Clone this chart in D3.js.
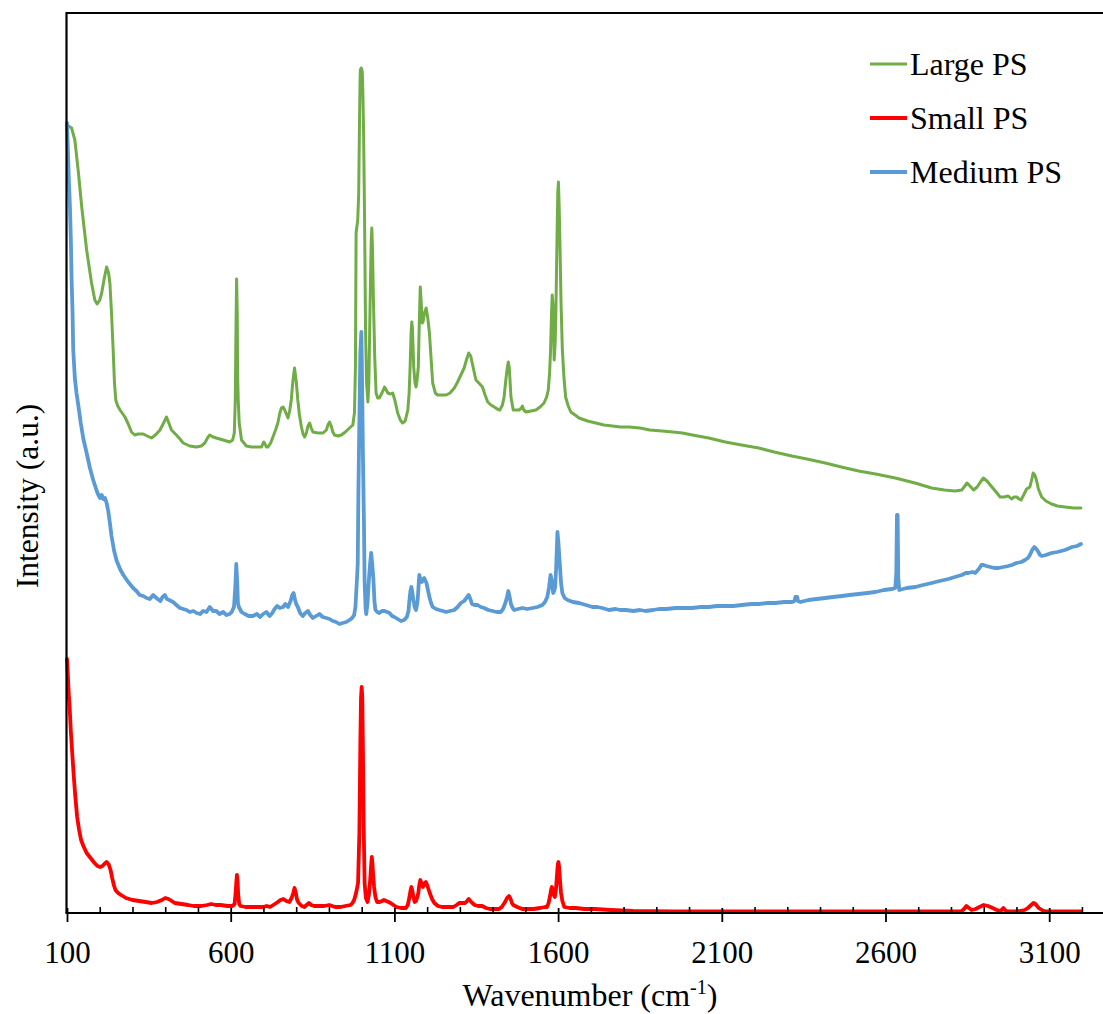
<!DOCTYPE html>
<html>
<head>
<meta charset="utf-8">
<script src="https://cdn.jsdelivr.net/npm/d3@7"></script>
<style>
  html, body { margin: 0; padding: 0; background: #fff; }
  svg { display: block; }
  text { font-family: "Liberation Serif", "Times New Roman", serif; fill: #000; }
</style>
</head>
<body>
<svg id="chart" width="1103" height="1014"></svg>
<script>
// ---------- data (wavenumber cm-1, intensity a.u.) ----------
const seriesNames = ["Large PS", "Small PS", "Medium PS"];
const seriesColors = ["#70AD47", "#FF0000", "#5B9BD5"];
const majorTicks = [100, 600, 1100, 1600, 2100, 2600, 3100];
const minorTicks = [200,300,400,500,700,800,900,1000,1200,1300,1400,1500,1700,1800,1900,2000,2200,2300,2400,2500,2700,2800,2900,3000,3200,3300];

const largePS = [[100,788],[114,785],[124,773],[135,740],[145,706],[160,663],[175,630],[185,613],[192,609],[200,613],[206,620],[214,635],[221,646],[227,640],[231,630],[236,600],[241,563],[245,530],[249,513],[255,507],[262,503],[277,496],[287,489],[297,481],[307,478],[317,479],[333,479],[345,477],[358,475],[370,478],[384,483],[395,490],[404,496],[411,490],[419,483],[434,478],[445,474],[455,470],[475,467],[495,466],[510,467],[521,470],[529,475],[536,478],[546,476],[556,475],[577,473],[597,471],[606,473],[611,480],[614,513],[616,580],[618,634],[620,600],[621,540],[623,513],[626,490],[633,473],[648,467],[663,466],[678,466],[694,466],[698,469],[701,471],[705,469],[709,466],[714,466],[722,470],[729,476],[737,483],[744,490],[750,500],[755,505],[760,506],[765,503],[770,499],[775,495],[780,502],[785,513],[790,532],[795,545],[800,532],[805,513],[810,498],[816,486],[821,479],[826,476],[831,480],[836,487],[841,490],[846,485],[851,481],[866,480],[882,480],[892,483],[897,488],[902,491],[907,487],[912,481],[917,478],[928,477],[938,478],[950,481],[963,485],[973,488],[978,500],[981,546],[983,680],[988,693],[991,720],[993,780],[995,830],[996,843],[999,845],[1002,841],[1004,815],[1006,780],[1009,690],[1012,580],[1015,530],[1019,511],[1022,530],[1026,613],[1029,670],[1031,685],[1033,665],[1036,613],[1040,555],[1044,520],[1049,515],[1054,515],[1062,520],[1070,526],[1075,523],[1080,520],[1088,519],[1095,520],[1102,512],[1110,500],[1118,493],[1125,490],[1133,492],[1141,503],[1145,520],[1148,546],[1151,580],[1153,591],[1155,585],[1157,566],[1159,546],[1163,530],[1166,526],[1169,532],[1173,546],[1176,590],[1179,626],[1182,610],[1185,590],[1188,592],[1192,600],[1197,605],[1202,595],[1207,580],[1212,555],[1217,530],[1225,520],[1232,518],[1245,518],[1258,518],[1270,520],[1283,525],[1293,531],[1303,538],[1313,545],[1320,553],[1327,560],[1333,557],[1337,551],[1343,542],[1349,533],[1358,530],[1369,526],[1377,518],[1385,511],[1395,508],[1405,506],[1414,504],[1422,503],[1430,508],[1435,516],[1441,535],[1446,548],[1448,551],[1451,545],[1456,516],[1463,503],[1472,503],[1481,503],[1488,505],[1491,507],[1495,503],[1502,501],[1517,502],[1532,503],[1545,506],[1557,510],[1565,516],[1570,523],[1574,540],[1577,563],[1580,600],[1582,618],[1585,605],[1588,553],[1591,570],[1593,596],[1596,660],[1599,720],[1601,731],[1603,710],[1606,663],[1609,610],[1613,563],[1618,535],[1623,516],[1631,507],[1639,501],[1652,498],[1664,495],[1690,492],[1715,490],[1740,488],[1766,487],[1790,486],[1817,486],[1850,485],[1880,483],[1918,482],[1950,481],[1980,480],[2010,478],[2060,475],[2111,471],[2160,468],[2213,465],[2260,461],[2314,457],[2360,454],[2416,450],[2465,446],[2518,442],[2570,439],[2630,435],[2690,430],[2741,425],[2780,423],[2813,422],[2833,423],[2840,426],[2849,430],[2858,427],[2869,423],[2880,426],[2890,431],[2899,435],[2910,432],[2925,426],[2938,421],[2950,416],[2962,416],[2975,417],[2985,414],[2993,416],[3001,416],[3008,414],[3014,413],[3022,418],[3031,424],[3041,426],[3047,434],[3051,440],[3056,438],[3061,433],[3067,424],[3077,416],[3090,412],[3107,409],[3125,407],[3148,406],[3175,405],[3197,405]];

const smallPS = [[100,254],[103,235],[106,215],[108,206],[112,180],[116,160],[120,140],[125,118],[131,96],[137,83],[143,73],[150,67],[160,60],[172,55],[184,50],[193,47],[201,46],[208,47],[214,49],[221,51],[227,49],[233,43],[238,35],[243,28],[248,23],[256,20],[265,18],[280,15],[300,13],[320,12],[340,11],[359,10],[375,11],[390,13],[400,15],[410,14],[420,12],[429,10],[450,9],[470,8],[487,7],[510,7],[528,8],[540,9],[555,8],[569,8],[590,7],[605,7],[612,9],[615,20],[617,30],[619,38],[621,32],[623,18],[626,9],[630,7],[645,6],[662,6],[680,6],[697,6],[710,7],[720,6],[730,8],[744,11],[752,13],[761,14],[770,12],[779,11],[786,15],[791,20],[795,25],[799,20],[803,13],[808,10],[817,7],[825,6],[832,8],[839,10],[846,8],[855,7],[870,7],[885,7],[901,8],[910,7],[919,6],[935,6],[950,7],[966,8],[972,10],[977,13],[983,20],[989,30],[993,80],[996,170],[998,215],[1000,226],[1002,215],[1004,160],[1006,90],[1009,30],[1013,15],[1018,11],[1022,18],[1026,33],[1029,48],[1031,56],[1033,50],[1035,38],[1038,26],[1042,16],[1047,11],[1055,11],[1062,12],[1068,13],[1075,12],[1082,11],[1088,10],[1097,8],[1106,6],[1120,5],[1135,5],[1141,8],[1146,16],[1149,22],[1152,26],[1155,22],[1158,16],[1162,11],[1166,12],[1170,16],[1173,20],[1176,28],[1179,33],[1183,30],[1187,26],[1191,29],[1196,31],[1200,28],[1204,24],[1208,20],[1215,14],[1222,10],[1233,7],[1245,6],[1262,6],[1280,6],[1290,8],[1298,10],[1307,10],[1316,10],[1322,12],[1327,14],[1332,12],[1338,10],[1345,8],[1356,7],[1368,7],[1380,5],[1391,4],[1405,4],[1420,4],[1428,6],[1434,9],[1438,11],[1444,15],[1450,17],[1455,14],[1459,10],[1463,8],[1475,6],[1490,4],[1507,4],[1525,4],[1545,5],[1560,6],[1566,6],[1571,10],[1576,18],[1579,24],[1581,26],[1584,22],[1587,18],[1590,16],[1593,22],[1596,35],[1599,48],[1601,51],[1603,46],[1606,32],[1609,20],[1613,12],[1619,6],[1635,5],[1654,5],[1680,4],[1712,4],[1760,3],[1829,2],[1950,1.5],[2300,1.5],[2600,1.5],[2831,1.5],[2840,4],[2847,7],[2855,5],[2863,3],[2875,4],[2887,6],[2900,8],[2913,7],[2927,5],[2940,3],[2949,2],[2955,3],[2960,5],[2965,3],[2971,1.5],[2993,1.5],[3010,2],[3025,3],[3035,5],[3045,8],[3052,10],[3058,9],[3068,5],[3080,2.5],[3090,1.5],[3150,1.5],[3197,1.5]];

const mediumPS = [[100,790],[103,760],[106,730],[109,706],[112,670],[114,634],[117,600],[119,563],[124,535],[129,520],[134,509],[142,490],[150,474],[160,460],[170,445],[180,433],[191,422],[196,418],[201,415],[206,418],[211,414],[216,415],[221,410],[226,402],[231,390],[236,377],[244,362],[252,352],[262,344],[272,338],[287,331],[302,325],[312,322],[322,318],[333,317],[343,315],[353,314],[363,318],[373,315],[385,312],[392,316],[399,318],[405,314],[412,313],[424,311],[434,308],[445,305],[455,304],[465,303],[475,301],[486,302],[496,300],[506,299],[516,302],[526,301],[536,306],[546,302],[556,302],[566,299],[577,301],[587,298],[597,299],[603,301],[610,306],[614,325],[617,349],[620,330],[622,310],[625,306],[633,301],[643,299],[655,297],[668,297],[680,299],[690,296],[699,299],[709,301],[719,297],[727,300],[734,304],[742,307],[750,305],[760,306],[767,309],[775,306],[783,312],[788,318],[792,320],[796,314],[800,309],[805,306],[812,300],[820,297],[828,300],[836,302],[843,298],[851,295],[861,297],[871,299],[881,296],[892,295],[902,294],[912,292],[922,291],[932,289],[942,290],[953,291],[963,293],[971,295],[977,298],[981,306],[985,330],[988,349],[990,420],[993,492],[996,560],[999,581],[1001,540],[1004,456],[1007,390],[1009,331],[1012,305],[1014,299],[1018,310],[1022,333],[1026,350],[1029,360],[1032,350],[1036,333],[1039,312],[1042,303],[1048,301],[1054,300],[1062,302],[1070,302],[1078,301],[1085,300],[1093,297],[1100,296],[1110,294],[1120,292],[1130,293],[1138,296],[1143,302],[1146,313],[1149,322],[1152,326],[1155,320],[1158,313],[1162,306],[1166,303],[1169,308],[1171,313],[1174,328],[1176,338],[1180,333],[1184,331],[1188,334],[1191,335],[1195,332],[1198,330],[1203,322],[1207,316],[1212,310],[1217,306],[1227,304],[1237,303],[1248,302],[1258,301],[1270,302],[1283,303],[1293,306],[1303,310],[1313,312],[1320,315],[1327,318],[1332,314],[1337,309],[1345,308],[1354,308],[1364,306],[1374,305],[1387,303],[1400,302],[1412,301],[1425,301],[1432,304],[1439,310],[1444,316],[1448,322],[1452,316],[1456,309],[1461,305],[1466,303],[1478,304],[1491,305],[1506,304],[1522,305],[1537,306],[1552,308],[1560,311],[1567,316],[1572,325],[1577,338],[1581,332],[1585,320],[1588,322],[1591,326],[1594,345],[1598,381],[1601,370],[1605,350],[1609,330],[1613,320],[1620,315],[1629,313],[1645,311],[1664,310],[1685,308],[1705,306],[1720,306],[1735,305],[1755,303],[1776,304],[1790,303],[1807,303],[1830,302],[1850,303],[1867,302],[1890,303],[1908,304],[1930,304],[1959,305],[1985,305],[2010,305],[2035,306],[2060,306],[2085,307],[2111,307],[2135,307],[2162,308],[2190,309],[2213,309],[2240,310],[2264,310],[2290,311],[2315,311],[2322,312],[2325,316],[2330,316],[2333,312],[2340,311],[2365,313],[2390,314],[2416,315],[2440,316],[2467,317],[2490,318],[2518,319],[2545,320],[2569,321],[2595,323],[2620,324],[2630,325],[2633,340],[2635,398],[2637,398],[2639,335],[2642,323],[2665,325],[2691,326],[2715,328],[2741,330],[2765,332],[2792,334],[2812,336],[2833,338],[2845,340],[2853,340],[2865,341],[2874,340],[2885,344],[2893,348],[2899,348],[2908,347],[2920,346],[2933,345],[2945,345],[2960,346],[2975,347],[2986,348],[3000,350],[3015,351],[3026,353],[3035,355],[3041,358],[3048,363],[3055,366],[3061,364],[3067,361],[3072,358],[3077,357],[3090,358],[3107,360],[3125,361],[3148,363],[3170,366],[3185,367],[3197,369]];

const allSeries = [largePS, smallPS, mediumPS];
const seriesWidths = [3, 3.8, 3.8];

// ---------- layout ----------
const svg = d3.select("#chart");
const plotLeft = 66.5, plotTop = 13, plotBottom = 913;
const x = d3.scaleLinear().domain([100, 3300]).range([67, 67 + 3200 * 0.3274]);
const y = d3.scaleLinear().domain([0, 900]).range([plotBottom, plotTop]);

// frame: top border
svg.append("line").attr("x1", plotLeft).attr("x2", 1103).attr("y1", plotTop).attr("y2", plotTop)
  .attr("stroke", "#000").attr("stroke-width", 2.2);

// series
const line = d3.line().x(d => x(d[0])).y(d => y(d[1]));
allSeries.forEach((s, i) => {
  svg.append("path").datum(s).attr("d", line)
    .attr("fill", "none").attr("stroke", seriesColors[i])
    .attr("stroke-width", seriesWidths[i])
    .attr("stroke-linejoin", "round").attr("stroke-linecap", "round");
});

// left axis line (no ticks)
svg.append("line").attr("x1", plotLeft).attr("x2", plotLeft).attr("y1", plotTop - 1).attr("y2", plotBottom)
  .attr("stroke", "#000").attr("stroke-width", 2.2);

// minor ticks (inside)
const minorAxis = d3.axisBottom(x).tickValues(minorTicks).tickSize(-6).tickFormat("");
const gMinor = svg.append("g").attr("transform", `translate(0,${plotBottom})`).call(minorAxis);
gMinor.select(".domain").remove();
gMinor.selectAll("line").attr("stroke", "#000").attr("stroke-width", 1.6);

// major ticks (crossing) with labels
const majorAxis = d3.axisBottom(x).tickValues(majorTicks).tickSize(9).tickPadding(20)
  .tickFormat(d3.format("d"));
const gMajor = svg.append("g").attr("transform", `translate(0,${plotBottom})`).call(majorAxis);
gMajor.select(".domain").remove();
gMajor.selectAll(".tick line").attr("y1", -5).attr("stroke", "#000").attr("stroke-width", 1.8);
gMajor.selectAll(".tick text").attr("font-family", "Liberation Serif, serif")
  .attr("font-size", 31).attr("fill", "#000").attr("dy", 0).attr("y", 50);

// bottom axis line
svg.append("line").attr("x1", plotLeft - 1).attr("x2", 1103).attr("y1", plotBottom).attr("y2", plotBottom)
  .attr("stroke", "#000").attr("stroke-width", 2.2);

// axis titles
const xt = svg.append("text").attr("x", 590).attr("y", 1006).attr("text-anchor", "middle")
  .attr("font-size", 32);
xt.append("tspan").text("Wavenumber (cm");
xt.append("tspan").attr("font-size", 20).attr("dy", -12).text("-1");
xt.append("tspan").attr("dy", 12).text(")");

svg.append("text").attr("transform", "translate(38,496) rotate(-90)")
  .attr("text-anchor", "middle").attr("font-size", 31.5).text("Intensity (a.u.)");

// legend
const legendY = [64, 118, 172];
seriesNames.forEach((n, i) => {
  svg.append("line").attr("x1", 870).attr("x2", 907).attr("y1", legendY[i]).attr("y2", legendY[i])
    .attr("stroke", seriesColors[i]).attr("stroke-width", seriesWidths[i]);
  svg.append("text").attr("x", 910).attr("y", legendY[i] + 11).attr("font-size", 32).text(n);
});
</script>
</body>
</html>
